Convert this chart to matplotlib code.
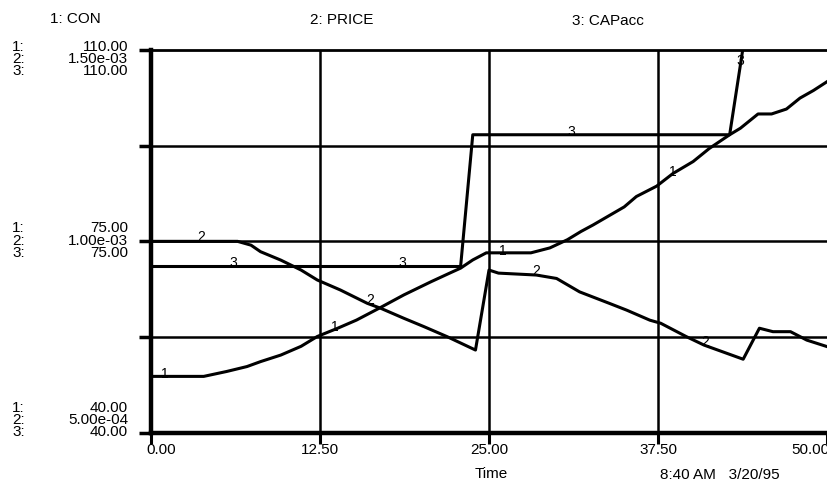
import matplotlib
matplotlib.use("Agg")
import matplotlib.pyplot as plt
import numpy as np

# --- data (Time 0..50) ---
t_con = [0, 3.9, 5.6, 7.1, 8.1, 9.6, 11.1, 12.3, 13.8, 15.2, 16.9, 18.7, 20.7,
         22.1, 22.9, 23.8, 24.8, 26.1, 28.1, 29.5, 30.8, 31.8, 32.7, 35.0, 35.9,
         37.4, 38.6, 40.1, 41.3, 42.8, 43.6, 44.9, 45.9, 47.0, 48.0, 49.0, 50.0]
con = [50.3, 50.3, 51.2, 52.1, 53.0, 54.2, 55.8, 57.6, 59.1, 60.6, 62.8, 65.2, 67.6,
       69.2, 70.1, 71.6, 72.9, 72.9, 72.9, 73.8, 75.3, 76.8, 78.0, 81.3, 83.2,
       85.1, 87.4, 89.6, 92.0, 94.5, 95.7, 98.3, 98.3, 99.2, 101.2, 102.6, 104.2]

t_price = [0, 6.4, 7.4, 8.1, 9.6, 11.1, 12.3, 14.0, 16.0, 17.0, 18.7, 20.2, 21.9,
           24.0, 25.0, 25.7, 28.5, 30.0, 31.7, 33.9, 35.2, 36.9, 37.7, 39.6, 40.9,
           43.8, 45.0, 46.0, 47.3, 48.5, 50.0]
price = [1.000e-3, 1.000e-3, 0.990e-3, 0.973e-3, 0.951e-3, 0.925e-3, 0.899e-3,
         0.873e-3, 0.838e-3, 0.825e-3, 0.799e-3, 0.777e-3, 0.751e-3, 0.716e-3,
         0.925e-3, 0.917e-3, 0.912e-3, 0.903e-3, 0.868e-3, 0.838e-3, 0.820e-3,
         0.794e-3, 0.786e-3, 0.751e-3, 0.729e-3, 0.692e-3, 0.773e-3, 0.764e-3,
         0.764e-3, 0.742e-3, 0.725e-3]

t_cap = [0, 22.9, 23.8, 42.8, 44.2]
cap = [70.4, 70.4, 94.5, 94.5, 117.0]

# where STELLA stamps the series numbers on the curves
lab1_t = [1.0, 13.6, 26.0, 38.6]
lab2_t = [3.7, 16.2, 28.5, 41.0]
lab3_t = [6.1, 18.6, 31.1, 43.6]

x_ticks = [0, 12.5, 25, 37.5, 50]
x_labels = ["0.00", "12.50", "25.00", "37.50", "50.00"]
y_grid = [40, 57.5, 75, 92.5, 110]
scale_rows = {110: ["110.00", "1.50e-03", "110.00"],
              75: ["75.00", "1.00e-03", "75.00"],
              40: ["40.00", "5.00e-04", "40.00"]}

plt.rcParams["font.family"] = "Liberation Sans"

W, H = 827, 484
fig = plt.figure(figsize=(W / 100, H / 100), dpi=100)
ax = fig.add_axes([151 / W, 1 - 432.7 / H, 676 / W, 382.7 / H])
ax.set_xlim(0, 50)
ax.set_ylim(40, 110)
ax2 = ax.twinx()          # PRICE hat eigene Skala
ax2.set_ylim(5e-4, 1.5e-3)
ax2.set_xlim(0, 50)
ax2.set_axis_off()

# frame + grid in the old Mac style
ax.spines["right"].set_visible(False)
ax.spines["left"].set_linewidth(3.2)
ax.spines["bottom"].set_linewidth(3.2)
ax.spines["top"].set_linewidth(2.0)
for v in y_grid[1:-1]:
    ax.axhline(v, color="black", lw=1.8, zorder=1)
for t in x_ticks[1:-1]:
    ax.axvline(t, color="black", lw=1.8, zorder=1)
ax.set_xticks(x_ticks, labels=[])
ax.set_yticks(y_grid, labels=[])
ax.tick_params(axis="x", direction="out", length=8, width=2.2, color="black")
ax.tick_params(axis="y", direction="out", length=9, width=2.5, color="black")

# series
ax.plot(t_con, con, color="black", lw=2.2, zorder=3)
ax.plot(t_cap, cap, color="black", lw=2.2, zorder=3)
ax2.plot(t_price, price, color="black", lw=2.2, zorder=3)

for t in lab1_t:
    ax.annotate("1", (t, np.interp(t, t_con, con)), xytext=(0, 2), textcoords="offset pixels",
                ha="center", va="center", fontsize=10, zorder=4)
for t in lab3_t:
    ax.annotate("3", (t, np.interp(t, t_cap, cap)), xytext=(0, 3), textcoords="offset pixels",
                ha="center", va="center", fontsize=10, zorder=4)
for t in lab2_t:
    ax2.annotate("2", (t, np.interp(t, t_price, price)), xytext=(0, 4), textcoords="offset pixels",
                 ha="center", va="center", fontsize=10, zorder=4)

# x tick labels (end ones pulled inside like STELLA does)
nudge = {0: 10, 50: -17}
for t, lab in zip(x_ticks, x_labels):
    ax.annotate(lab, (t, 0), xycoords=("data", "axes fraction"),
                xytext=(nudge.get(t, 0), -17), textcoords="offset pixels",
                ha="center", va="center", fontsize=11, annotation_clip=False)

# stacked scale labels on the left
row_offsets = {110: [3, -9, -21], 75: [13, 0, -12], 40: [25, 13, 1]}
for v, rows in scale_rows.items():
    for i, (txt, dy) in enumerate(zip(rows, row_offsets[v])):
        ax.annotate(f"{i + 1}:", (12 / W, v), xycoords=("figure fraction", "data"),
                    xytext=(0, dy), textcoords="offset pixels",
                    ha="left", va="center", fontsize=11, annotation_clip=False)
        ax.annotate(txt, (128 / W, v), xycoords=("figure fraction", "data"),
                    xytext=(0, dy), textcoords="offset pixels",
                    ha="right", va="center", fontsize=11, annotation_clip=False)

# header and footer
fig.text(75 / W, 1 - 19 / H, "1: CON", ha="center", va="center", fontsize=11)
fig.text(342 / W, 1 - 20 / H, "2: PRICE", ha="center", va="center", fontsize=11)
fig.text(608 / W, 1 - 21 / H, "3: CAPacc", ha="center", va="center", fontsize=11)
fig.text(491 / W, 1 - 474 / H, "Time", ha="center", va="center", fontsize=11)
fig.text(660 / W, 1 - 475 / H, "8:40 AM   3/20/95", ha="left", va="center", fontsize=11)

fig.savefig("out.png", dpi=100)
